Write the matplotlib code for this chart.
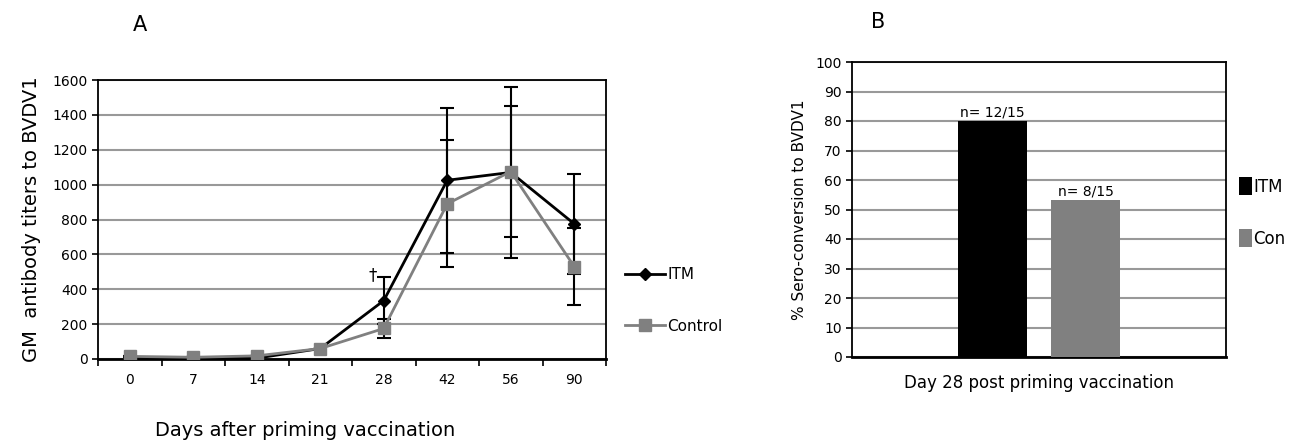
import numpy as np
import matplotlib
matplotlib.use("Agg")
import matplotlib.pyplot as plt

plt.rcParams['font.family'] = ['DejaVu Sans']

# panel A data
days = ['0', '7', '14', '21', '28', '42', '56', '90']
itm_titer = [10, 5, 5, 60, 335, 1025, 1070, 775]
itm_err = [0, 0, 0, 0, 135, 415, 490, 285]
con_titer = [15, 10, 18, 60, 175, 890, 1075, 530]
con_err = [0, 0, 0, 0, 55, 365, 375, 220]

# panel B data
groups = ['ITM', 'Con']
sero_pct = [80, 53.3]
sero_labels = ['n= 12/15', 'n= 8/15']
bar_colors = ['black', 'gray']

fig = plt.figure(figsize=(13.09, 4.42), dpi=100)
W, H = 1309, 442

def box(l, t, r, b):
    return [l / W, 1 - b / H, (r - l) / W, (b - t) / H]

# ---- panel A
ax = fig.add_axes(box(98, 80, 606, 359))
x = np.arange(len(days))
ax.errorbar(x, itm_titer, yerr=itm_err, fmt='none', ecolor='black', elinewidth=1.5, capsize=5, capthick=1.5, zorder=3)
ax.errorbar(x, con_titer, yerr=con_err, fmt='none', ecolor='black', elinewidth=1.5, capsize=5, capthick=1.5, zorder=3)
ax.plot(x, itm_titer, color='black', lw=2, marker='D', ms=6, label='ITM', zorder=4)
ax.plot(x, con_titer, color='#808080', lw=2, marker='s', ms=9, label='Control', zorder=5)
ax.set_xlim(-0.5, len(days) - 0.5)
ax.set_ylim(0, 1600)
ax.set_yticks(np.arange(0, 1601, 200))
ax.yaxis.grid(True, color='#999999', lw=1.5)
ax.set_axisbelow(True)
ax.set_xticks(x)
ax.set_xticklabels(days, fontsize=10)
ax.set_xticks(np.arange(-0.5, len(days)), minor=True)
ax.tick_params(axis='x', which='major', length=0, pad=10)
ax.tick_params(axis='x', which='minor', length=5, width=1.2)
ax.tick_params(axis='y', labelsize=10, length=4, width=1.2)
for s in ax.spines.values():
    s.set_linewidth(1.3)
ax.spines['bottom'].set_linewidth(2)
ax.set_ylabel('GM  antibody titers to BVDV1', fontsize=14, labelpad=8)
ax.text(4 - 0.17, 480, '\u2020', ha='center', va='center', fontsize=12)
ax.legend(loc='center left', bbox_to_anchor=(1.01, 0.21), frameon=False, fontsize=11,
          handlelength=2.6, labelspacing=2.4, handletextpad=0.2)
fig.text(305 / W, 1 - 430 / H, 'Days after priming vaccination', ha='center', va='center', fontsize=14)
fig.text(140 / W, 1 - 25 / H, 'A', ha='center', va='center', fontsize=15)

# ---- panel B
bx = fig.add_axes(box(852, 62, 1226, 357))
width = 0.185
for i, g in enumerate(groups):
    off = (i - 0.5) * 0.25
    bx.bar(off, sero_pct[i], width, color=bar_colors[i], label=g, zorder=3)
    bx.text(off, sero_pct[i] + 0.5, sero_labels[i], ha='center', va='bottom', fontsize=10)
bx.set_xlim(-0.5, 0.5)
bx.set_ylim(0, 100)
bx.set_yticks(np.arange(0, 101, 10))
bx.yaxis.grid(True, color='#999999', lw=1.5)
bx.set_axisbelow(True)
bx.set_xticks([])
bx.tick_params(axis='y', labelsize=10, length=4, width=1.2)
for s in bx.spines.values():
    s.set_linewidth(1.3)
bx.spines['bottom'].set_linewidth(2)
bx.set_ylabel('% Sero-conversion to BVDV1', fontsize=11, labelpad=6)
bx.set_xlabel('Day 28 post priming vaccination', fontsize=12, labelpad=12)
bx.legend(loc='center left', bbox_to_anchor=(0.995, 0.49), frameon=False, fontsize=12,
          handlelength=0.75, handleheight=1.3, labelspacing=2.0, handletextpad=0.1)
fig.text(878 / W, 1 - 22 / H, 'B', ha='center', va='center', fontsize=15)

fig.savefig('out.png', dpi=100)
